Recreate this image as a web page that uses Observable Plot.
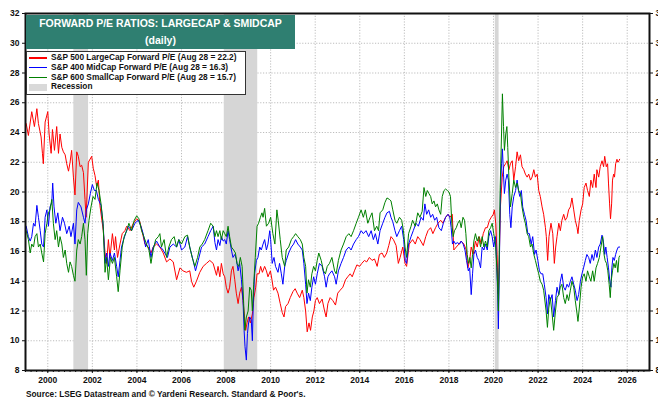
<!DOCTYPE html>
<html>
<head>
<meta charset="utf-8">
<script src="https://cdn.jsdelivr.net/npm/d3@7"></script>
<script src="https://cdn.jsdelivr.net/npm/@observablehq/plot@0.6"></script>
<style>
  html, body { margin: 0; padding: 0; background: #fff; overflow: hidden; }
  #wrap { position: relative; width: 658px; height: 401px; font-family: "Liberation Sans", Arial, sans-serif; }
  #title { position: absolute; left: 26px; top: 15px; width: 269px; height: 34px; background: #2f7f71; color: #fff;
           font-weight: bold; font-size: 10.5px; line-height: 17px; text-align: center; }
  #legend { position: absolute; left: 26px; top: 51px; width: 218px; height: 41px; background: #fff;
            border: 1.5px solid #333; padding-top: 1px; }
  .row { position: relative; height: 9.8px; line-height: 9.8px; font-size: 8.3px; font-weight: bold; color: #111; padding-left: 24px; white-space: nowrap; }
  .sw { position: absolute; left: 2px; top: 4px; width: 18px; height: 1.5px; }
  .sw.rec { top: 1.5px; height: 7px; }
  #source { position: absolute; left: 26px; top: 388px; font-size: 8.3px; font-weight: bold; color: #111; line-height: 13px; white-space: nowrap; }
</style>
</head>
<body>
<div id="wrap">
  <div id="chart"></div>
  <div id="title"></div>
  <div id="legend"></div>
  <div id="source"></div>
</div>
<script>
const titleLines = ["FORWARD P/E RATIOS: LARGECAP & SMIDCAP", "(daily)"];
const sourceText = "Source: LSEG Datastream and \u00a9 Yardeni Research. Standard & Poor's.";
const seriesNames = [
  "S&P 500 LargeCap Forward P/E (Aug 28 = 22.2)",
  "S&P 400 MidCap Forward P/E (Aug 28 = 16.3)",
  "S&P 600 SmallCap Forward P/E (Aug 28 = 15.7)"
];
const recessionLabel = "Recession";
const seriesColors = ["#ff0000", "#0000ff", "#008000"];
const xTicks = [2000, 2002, 2004, 2006, 2008, 2010, 2012, 2014, 2016, 2018, 2020, 2022, 2024, 2026];
const yTicks = [8, 10, 12, 14, 16, 18, 20, 22, 24, 26, 28, 30, 32];
const recessions = [[2001.17, 2001.83], [2007.92, 2009.42], [2020.08, 2020.25]];

const sp500 = [
[1999.03,24.6],[1999.13,23.8],[1999.28,25.4],[1999.40,24.4],[1999.51,25.6],[1999.58,24.6],[1999.70,23.7],[1999.76,22.6],[1999.80,21.9],[1999.88,24.7],
[2000.00,25.4],[2000.06,23.9],[2000.15,22.6],[2000.21,24.2],[2000.30,22.8],[2000.40,24.4],[2000.48,22.6],[2000.55,23.9],[2000.63,23.0],[2000.70,22.7],[2000.78,22.5],[2000.85,21.9],[2000.93,21.4],
[2001.00,22.0],[2001.07,22.8],[2001.15,21.0],[2001.22,19.8],[2001.30,22.7],[2001.37,22.4],[2001.45,21.7],[2001.52,21.8],[2001.60,21.3],[2001.67,19.5],[2001.72,18.3],[2001.82,22.0],[2001.97,22.4],
[2002.04,21.6],[2002.12,21.1],[2002.19,20.4],[2002.27,20.8],[2002.34,19.1],[2002.49,17.4],[2002.57,15.9],[2002.64,15.2],[2002.72,16.8],[2002.79,15.6],[2002.90,17.2],[2002.99,16.1],
[2003.04,17.0],[2003.13,15.6],[2003.24,16.5],[2003.34,17.2],[2003.46,17.4],[2003.54,17.7],[2003.69,17.4],[2003.84,17.9],[2003.99,18.2],
[2004.13,18.0],[2004.24,17.3],[2004.36,16.5],[2004.51,16.3],[2004.63,15.9],[2004.73,16.3],[2004.88,16.5],
[2005.03,16.3],[2005.18,15.9],[2005.33,15.3],[2005.48,15.5],[2005.63,15.3],[2005.78,14.1],[2005.93,14.9],
[2006.07,14.7],[2006.22,14.6],[2006.37,14.7],[2006.45,14.0],[2006.55,13.6],[2006.67,14.0],[2006.82,14.6],[2006.97,15.0],
[2007.12,15.2],[2007.27,15.4],[2007.42,15.2],[2007.57,14.4],[2007.64,15.0],[2007.72,14.3],[2007.79,15.2],[2007.87,14.5],[2007.94,14.3],
[2008.01,13.6],[2008.09,13.2],[2008.16,13.6],[2008.24,14.7],[2008.31,15.0],[2008.39,14.1],[2008.46,13.2],[2008.54,12.5],[2008.61,13.2],[2008.69,13.6],[2008.76,12.7],[2008.84,11.4],[2008.88,10.7],[2008.94,11.2],
[2009.01,11.6],[2009.09,11.2],[2009.18,11.8],[2009.25,12.9],[2009.33,13.6],[2009.39,14.5],[2009.48,14.5],[2009.55,15.0],[2009.63,14.6],[2009.73,15.0],[2009.81,14.7],[2009.88,14.3],[2009.99,14.7],
[2010.06,14.1],[2010.13,13.4],[2010.22,13.6],[2010.33,13.2],[2010.43,12.5],[2010.52,11.9],[2010.60,11.6],[2010.67,12.3],[2010.78,12.5],[2010.88,12.9],
[2011.00,13.3],[2011.10,13.5],[2011.19,13.2],[2011.30,12.9],[2011.42,13.4],[2011.49,12.9],[2011.57,12.0],[2011.64,10.6],[2011.72,11.2],[2011.79,10.7],[2011.87,11.6],[2011.94,12.0],
[2012.01,12.7],[2012.09,12.9],[2012.19,12.5],[2012.31,12.8],[2012.42,12.0],[2012.49,11.6],[2012.57,12.5],[2012.67,12.9],[2012.79,12.7],[2012.91,12.4],
[2013.01,13.2],[2013.12,13.4],[2013.24,13.6],[2013.36,14.1],[2013.46,14.3],[2013.57,14.5],[2013.66,14.3],[2013.76,14.7],[2013.87,15.1],[2013.99,15.0],
[2014.09,15.2],[2014.21,15.4],[2014.31,15.3],[2014.43,15.6],[2014.55,15.4],[2014.66,15.5],[2014.78,15.0],[2014.88,15.8],
[2015.00,15.9],[2015.10,15.6],[2015.21,15.9],[2015.30,16.4],[2015.40,17.0],[2015.51,16.8],[2015.63,16.4],[2015.73,15.2],[2015.81,15.6],[2015.93,16.3],
[2016.03,15.2],[2016.10,15.0],[2016.22,16.5],[2016.37,16.8],[2016.49,16.5],[2016.60,17.0],[2016.70,16.8],[2016.85,16.4],[2016.96,17.0],
[2017.06,17.4],[2017.18,17.6],[2017.28,17.2],[2017.40,17.6],[2017.51,17.9],[2017.63,18.1],[2017.73,17.9],[2017.85,18.3],[2017.96,18.5],
[2018.04,18.3],[2018.15,18.5],[2018.22,16.1],[2018.33,16.3],[2018.45,16.5],[2018.55,16.7],[2018.67,16.5],[2018.78,16.1],[2018.85,14.9],[2018.93,15.4],
[2019.00,16.3],[2019.09,15.8],[2019.19,16.7],[2019.27,16.3],[2019.36,17.0],[2019.45,16.5],[2019.54,17.2],[2019.64,17.6],[2019.72,17.6],[2019.82,18.1],[2019.90,18.3],[2019.99,18.5],
[2020.04,18.8],[2020.10,17.9],[2020.16,15.8],[2020.21,13.1],[2020.25,14.9],[2020.31,19.0],[2020.39,21.0],[2020.46,21.7],[2020.54,21.9],[2020.61,22.1],[2020.69,21.5],[2020.76,21.9],[2020.84,22.1],[2020.91,20.8],[2020.99,21.7],
[2021.06,22.7],[2021.13,22.1],[2021.21,22.5],[2021.28,21.7],[2021.36,21.5],[2021.43,21.2],[2021.51,21.0],[2021.58,21.2],[2021.66,20.8],[2021.73,21.0],[2021.81,21.5],[2021.88,21.0],[2021.96,21.2],
[2022.03,20.1],[2022.10,19.7],[2022.18,19.0],[2022.25,18.5],[2022.33,17.6],[2022.37,17.0],[2022.43,15.4],[2022.49,17.0],[2022.58,17.9],[2022.66,17.2],[2022.73,15.2],[2022.79,16.3],[2022.85,17.0],[2022.93,17.9],
[2023.00,17.4],[2023.07,18.1],[2023.15,18.5],[2023.22,18.1],[2023.30,18.3],[2023.37,18.8],[2023.45,19.0],[2023.52,19.6],[2023.60,18.8],[2023.67,18.1],[2023.75,17.6],[2023.79,17.2],[2023.85,18.1],[2023.93,18.8],
[2024.00,19.2],[2024.07,20.3],[2024.15,20.6],[2024.22,20.1],[2024.30,19.7],[2024.37,20.8],[2024.45,20.3],[2024.52,21.2],[2024.60,20.3],[2024.64,21.5],[2024.72,21.0],[2024.79,21.7],[2024.87,22.1],[2024.94,21.7],[2024.99,22.4],
[2025.06,21.7],[2025.12,21.9],[2025.16,20.6],[2025.21,19.2],[2025.25,18.2],[2025.30,19.2],[2025.34,20.8],[2025.39,21.2],[2025.43,21.0],[2025.48,21.9],[2025.54,22.2],[2025.58,22.0],[2025.63,22.1],[2025.66,22.2]
];

const sp400 = [
[1999.03,17.7],[1999.13,17.0],[1999.21,16.7],[1999.28,17.0],[1999.36,17.9],[1999.43,17.7],[1999.51,19.1],[1999.58,18.3],[1999.66,17.4],[1999.73,16.5],[1999.81,16.3],[1999.88,18.3],[1999.96,18.8],
[2000.03,17.7],[2000.10,19.0],[2000.18,19.3],[2000.22,20.6],[2000.28,19.0],[2000.36,17.9],[2000.45,18.6],[2000.55,17.4],[2000.66,18.3],[2000.75,17.9],[2000.85,17.2],[2000.96,17.7],
[2001.04,17.0],[2001.15,17.9],[2001.22,16.5],[2001.30,18.8],[2001.37,19.3],[2001.49,19.0],[2001.60,18.3],[2001.67,17.9],[2001.73,18.8],[2001.82,19.2],[2001.91,19.9],
[2002.00,20.5],[2002.09,20.1],[2002.18,20.1],[2002.27,19.5],[2002.39,19.1],[2002.49,17.7],[2002.57,15.2],[2002.64,15.9],[2002.72,15.0],[2002.79,15.9],[2002.90,15.4],[2002.99,15.9],
[2003.09,15.0],[2003.16,14.3],[2003.24,15.4],[2003.31,16.3],[2003.40,16.8],[2003.49,17.2],[2003.61,17.7],[2003.76,17.4],[2003.91,17.9],
[2004.06,18.1],[2004.18,17.7],[2004.28,17.2],[2004.39,16.3],[2004.51,16.8],[2004.63,15.6],[2004.73,16.3],[2004.88,16.7],
[2005.03,16.3],[2005.13,16.2],[2005.25,15.9],[2005.37,15.6],[2005.48,16.3],[2005.63,16.5],[2005.78,16.3],[2005.88,16.8],
[2006.00,16.1],[2006.15,16.3],[2006.27,17.0],[2006.37,16.3],[2006.52,15.4],[2006.63,14.7],[2006.75,15.4],[2006.90,16.3],
[2007.04,16.5],[2007.19,17.0],[2007.31,17.4],[2007.42,17.7],[2007.50,16.6],[2007.57,16.1],[2007.64,16.8],[2007.72,16.4],[2007.79,17.0],[2007.87,16.7],[2007.94,16.8],
[2008.01,16.5],[2008.09,17.4],[2008.16,16.8],[2008.24,16.1],[2008.31,15.6],[2008.39,15.8],[2008.46,15.5],[2008.54,14.7],[2008.61,15.2],[2008.69,14.1],[2008.76,12.7],[2008.81,10.7],[2008.85,9.6],[2008.91,8.7],[2008.96,10.5],
[2009.01,11.2],[2009.06,11.6],[2009.13,11.4],[2009.18,10.0],[2009.22,12.5],[2009.28,14.5],[2009.36,15.4],[2009.43,15.6],[2009.51,16.3],[2009.58,16.1],[2009.66,16.5],[2009.73,16.8],[2009.81,16.1],[2009.88,16.5],[2009.96,17.4],
[2010.00,16.8],[2010.07,15.2],[2010.15,15.6],[2010.22,15.0],[2010.33,14.6],[2010.40,15.2],[2010.48,14.5],[2010.55,13.8],[2010.63,15.0],[2010.70,15.4],[2010.81,15.9],[2010.93,16.3],
[2011.03,16.5],[2011.12,16.8],[2011.22,16.5],[2011.33,16.3],[2011.42,16.1],[2011.49,15.2],[2011.57,13.8],[2011.63,12.5],[2011.70,13.2],[2011.78,12.7],[2011.85,13.6],[2011.93,14.3],
[2012.01,13.8],[2012.09,14.5],[2012.19,15.2],[2012.31,15.0],[2012.42,14.3],[2012.49,13.6],[2012.57,14.3],[2012.64,14.5],[2012.75,14.7],[2012.87,14.3],[2012.94,13.8],
[2013.04,14.7],[2013.16,15.2],[2013.27,15.6],[2013.39,16.1],[2013.51,16.3],[2013.61,16.1],[2013.72,16.5],[2013.84,16.8],[2013.94,17.0],
[2014.06,17.4],[2014.16,17.2],[2014.28,17.4],[2014.40,17.0],[2014.51,17.4],[2014.61,16.8],[2014.70,17.2],[2014.81,16.5],[2014.91,17.4],
[2015.03,17.9],[2015.13,18.3],[2015.22,18.6],[2015.33,18.7],[2015.40,18.3],[2015.48,18.0],[2015.58,17.4],[2015.66,17.0],[2015.78,17.4],[2015.88,17.7],[2015.97,16.8],
[2016.04,15.4],[2016.10,15.2],[2016.19,16.5],[2016.30,17.0],[2016.40,17.4],[2016.52,17.9],[2016.63,17.7],[2016.75,18.3],[2016.85,18.1],[2016.92,19.2],
[2017.00,18.5],[2017.09,18.8],[2017.18,18.3],[2017.27,18.5],[2017.36,18.1],[2017.45,18.3],[2017.55,17.6],[2017.66,17.4],[2017.75,17.9],[2017.85,18.3],[2017.96,18.5],
[2018.04,18.3],[2018.10,17.6],[2018.16,16.5],[2018.22,16.7],[2018.30,16.5],[2018.37,16.6],[2018.48,16.5],[2018.55,16.7],[2018.64,16.5],[2018.72,16.1],[2018.79,15.4],[2018.87,14.7],[2018.93,14.9],
[2019.00,13.1],[2019.06,14.5],[2019.12,15.8],[2019.19,16.1],[2019.27,15.6],[2019.34,15.4],[2019.42,14.9],[2019.49,16.3],[2019.57,16.1],[2019.64,16.5],[2019.72,16.1],[2019.79,17.0],[2019.87,17.4],[2019.94,17.0],
[2020.01,16.3],[2020.09,17.0],[2020.15,14.9],[2020.19,13.1],[2020.22,10.8],[2020.27,15.8],[2020.31,19.9],[2020.36,21.9],[2020.40,22.9],[2020.45,21.2],[2020.49,19.9],[2020.55,20.8],[2020.61,21.2],[2020.67,20.8],[2020.73,18.5],[2020.78,17.6],[2020.84,19.0],[2020.91,19.7],[2020.99,20.1],
[2021.06,20.8],[2021.12,20.1],[2021.18,19.7],[2021.25,20.1],[2021.31,19.0],[2021.39,18.5],[2021.46,18.1],[2021.54,17.2],[2021.61,17.2],[2021.69,16.5],[2021.76,17.0],[2021.84,15.8],[2021.91,16.1],[2021.99,15.4],
[2022.06,14.7],[2022.13,14.5],[2022.21,14.5],[2022.28,13.8],[2022.36,12.9],[2022.42,11.8],[2022.48,13.1],[2022.55,12.7],[2022.63,13.1],[2022.70,11.6],[2022.78,12.7],[2022.85,13.6],[2022.93,13.1],
[2023.00,14.0],[2023.07,14.5],[2023.15,13.6],[2023.22,13.4],[2023.30,13.8],[2023.37,13.6],[2023.45,14.0],[2023.52,14.3],[2023.60,13.8],[2023.67,13.4],[2023.75,12.7],[2023.82,13.1],[2023.90,14.0],[2023.97,14.5],
[2024.04,14.9],[2024.12,15.4],[2024.19,15.8],[2024.27,15.6],[2024.34,15.2],[2024.42,15.8],[2024.49,15.4],[2024.57,16.1],[2024.64,15.6],[2024.72,16.3],[2024.79,16.5],[2024.87,17.1],[2024.93,16.7],[2024.99,15.8],
[2025.04,16.3],[2025.10,15.6],[2025.16,14.9],[2025.22,14.0],[2025.27,13.6],[2025.31,14.9],[2025.36,15.6],[2025.42,15.4],[2025.48,15.8],[2025.54,16.1],[2025.60,16.3],[2025.66,16.3]
];

const sp600 = [
[1999.03,17.4],[1999.13,16.8],[1999.21,15.9],[1999.28,16.5],[1999.36,16.3],[1999.43,17.0],[1999.51,17.2],[1999.58,16.3],[1999.66,16.5],[1999.73,15.9],[1999.81,15.3],[1999.88,17.2],[1999.96,17.9],
[2000.03,18.6],[2000.10,18.8],[2000.18,19.5],[2000.25,17.9],[2000.33,16.8],[2000.40,17.4],[2000.48,16.3],[2000.55,17.0],[2000.63,16.5],[2000.70,15.6],[2000.78,16.1],[2000.85,15.2],[2000.93,14.6],
[2001.00,15.3],[2001.07,15.0],[2001.15,14.4],[2001.22,14.0],[2001.30,16.1],[2001.37,16.8],[2001.45,16.5],[2001.52,17.0],[2001.60,17.9],[2001.67,16.8],[2001.73,14.4],[2001.79,17.2],[2001.85,18.1],[2001.94,19.0],
[2002.03,19.7],[2002.12,19.5],[2002.21,20.6],[2002.30,20.1],[2002.39,19.2],[2002.48,17.9],[2002.57,14.6],[2002.64,15.6],[2002.72,14.1],[2002.81,15.6],[2002.90,15.2],[2002.99,15.6],
[2003.09,14.3],[2003.16,13.3],[2003.24,14.7],[2003.34,16.3],[2003.43,17.0],[2003.54,17.4],[2003.64,17.9],[2003.76,17.4],[2003.88,18.1],[2003.99,18.4],
[2004.09,18.2],[2004.21,17.4],[2004.31,17.0],[2004.43,16.5],[2004.54,16.1],[2004.63,15.2],[2004.73,16.1],[2004.84,16.8],[2004.96,17.0],
[2005.03,17.2],[2005.10,16.3],[2005.22,16.8],[2005.33,15.6],[2005.43,16.3],[2005.55,16.8],[2005.67,17.0],[2005.78,16.3],[2005.88,16.8],
[2006.00,16.5],[2006.15,17.0],[2006.27,17.1],[2006.37,16.3],[2006.48,15.6],[2006.60,15.0],[2006.72,15.6],[2006.82,16.3],[2006.93,16.5],
[2007.04,16.8],[2007.19,17.4],[2007.31,17.9],[2007.42,17.7],[2007.50,17.0],[2007.57,17.4],[2007.64,17.0],[2007.72,17.4],[2007.79,16.8],[2007.87,17.4],[2007.94,17.2],
[2008.01,17.0],[2008.09,17.7],[2008.16,17.0],[2008.24,16.3],[2008.34,16.1],[2008.42,15.9],[2008.49,15.2],[2008.57,15.0],[2008.64,15.6],[2008.72,15.0],[2008.79,12.5],[2008.84,10.7],[2008.91,11.6],[2008.99,12.0],
[2009.06,13.6],[2009.13,13.4],[2009.18,12.0],[2009.24,13.8],[2009.31,15.6],[2009.39,17.7],[2009.46,17.9],[2009.54,18.3],[2009.61,18.6],[2009.66,18.3],[2009.73,18.9],[2009.81,17.7],[2009.91,17.9],
[2010.00,18.3],[2010.10,17.2],[2010.19,16.5],[2010.28,18.8],[2010.34,18.1],[2010.43,16.8],[2010.52,15.6],[2010.63,15.0],[2010.70,16.1],[2010.81,16.3],[2010.93,16.8],
[2011.03,17.0],[2011.12,17.2],[2011.22,17.0],[2011.33,16.8],[2011.42,16.5],[2011.49,15.6],[2011.57,15.0],[2011.63,13.2],[2011.70,14.1],[2011.78,13.6],[2011.85,14.5],[2011.93,15.0],
[2012.01,14.7],[2012.09,15.4],[2012.16,15.9],[2012.27,15.4],[2012.37,14.7],[2012.46,14.5],[2012.54,15.0],[2012.64,15.2],[2012.75,15.6],[2012.87,14.7],[2012.94,14.5],
[2013.04,15.4],[2013.16,16.1],[2013.27,16.5],[2013.39,17.0],[2013.51,17.2],[2013.61,17.0],[2013.72,17.4],[2013.84,17.9],[2013.94,18.3],
[2014.06,18.8],[2014.16,18.3],[2014.25,18.8],[2014.36,17.9],[2014.46,18.3],[2014.55,18.6],[2014.66,17.4],[2014.76,17.7],[2014.84,17.4],[2014.91,18.6],
[2015.03,18.8],[2015.13,19.3],[2015.22,19.6],[2015.33,19.5],[2015.40,19.4],[2015.48,18.8],[2015.58,18.1],[2015.66,17.9],[2015.78,18.3],[2015.88,18.1],[2015.96,17.4],
[2016.03,16.3],[2016.10,15.6],[2016.19,17.2],[2016.30,17.7],[2016.37,18.1],[2016.49,17.7],[2016.60,18.6],[2016.70,18.3],[2016.80,18.7],[2016.88,20.3],[2016.96,19.7],
[2017.03,20.1],[2017.10,19.9],[2017.18,19.7],[2017.25,19.2],[2017.33,19.4],[2017.40,19.0],[2017.48,19.2],[2017.55,18.8],[2017.63,18.5],[2017.70,19.7],[2017.78,20.1],[2017.85,20.2],[2017.93,20.1],
[2018.00,20.0],[2018.07,19.7],[2018.13,17.9],[2018.19,17.0],[2018.25,17.4],[2018.33,17.6],[2018.40,17.9],[2018.48,18.1],[2018.55,17.6],[2018.63,18.3],[2018.70,18.1],[2018.76,17.2],[2018.82,15.8],[2018.88,15.2],[2018.94,15.6],
[2019.00,14.9],[2019.06,15.8],[2019.12,16.7],[2019.19,17.2],[2019.27,16.7],[2019.34,17.0],[2019.42,16.3],[2019.49,17.0],[2019.57,16.3],[2019.64,16.7],[2019.72,16.3],[2019.79,17.4],[2019.87,17.6],[2019.94,17.9],
[2020.01,17.2],[2020.09,16.5],[2020.15,14.9],[2020.19,13.6],[2020.22,12.0],[2020.25,14.9],[2020.30,20.3],[2020.36,23.9],[2020.40,26.6],[2020.45,24.4],[2020.49,22.8],[2020.55,23.9],[2020.60,24.4],[2020.64,23.0],[2020.69,21.0],[2020.76,19.0],[2020.84,19.9],[2020.91,20.8],[2020.99,20.3],
[2021.06,20.6],[2021.13,20.1],[2021.21,19.9],[2021.28,19.0],[2021.36,18.3],[2021.43,17.9],[2021.51,17.2],[2021.58,17.0],[2021.66,16.3],[2021.73,16.5],[2021.81,15.8],[2021.88,15.4],[2021.96,14.9],
[2022.03,14.5],[2022.10,14.0],[2022.18,13.8],[2022.25,13.4],[2022.36,12.0],[2022.42,10.9],[2022.48,12.2],[2022.55,12.9],[2022.63,11.8],[2022.70,10.7],[2022.78,12.0],[2022.85,12.9],[2022.93,13.1],
[2023.00,13.6],[2023.07,13.8],[2023.15,12.9],[2023.22,12.5],[2023.30,13.1],[2023.37,12.7],[2023.45,13.4],[2023.52,14.0],[2023.60,13.6],[2023.67,12.7],[2023.75,11.8],[2023.79,11.3],[2023.85,12.2],[2023.93,13.6],
[2024.00,14.3],[2024.07,14.5],[2024.15,14.0],[2024.22,14.7],[2024.30,14.3],[2024.37,14.0],[2024.45,14.7],[2024.52,14.0],[2024.60,14.9],[2024.67,15.2],[2024.75,15.6],[2024.82,16.3],[2024.90,17.0],[2024.96,15.8],
[2025.01,15.4],[2025.07,15.2],[2025.13,14.7],[2025.19,13.8],[2025.24,12.9],[2025.28,14.0],[2025.34,14.7],[2025.40,15.2],[2025.46,14.9],[2025.52,15.4],[2025.58,14.6],[2025.63,15.6],[2025.66,15.7]
];

// Title
document.getElementById("title").innerHTML = titleLines.map(s => s.replace(/&/g, "&amp;")).join("<br>");
document.getElementById("source").textContent = sourceText;

// Legend
const legend = document.getElementById("legend");
seriesNames.forEach((name, i) => {
  const row = document.createElement("div");
  row.className = "row";
  const sw = document.createElement("span");
  sw.className = "sw";
  sw.style.background = seriesColors[i];
  row.appendChild(sw);
  row.appendChild(document.createTextNode(name));
  legend.appendChild(row);
});
{
  const row = document.createElement("div");
  row.className = "row";
  const sw = document.createElement("span");
  sw.className = "sw rec";
  sw.style.background = "#d9d9d9";
  row.appendChild(sw);
  row.appendChild(document.createTextNode(recessionLabel));
  legend.appendChild(row);
}

const minorX = [];
for (let y = 1999; y < 2027; y++) for (let q = 0; q < 4; q++) minorX.push(y + q / 4);

const chart = Plot.plot({
  width: 658,
  height: 388,
  marginLeft: 25,
  marginRight: 9,
  marginTop: 13,
  marginBottom: 18,
  x: {domain: [1999, 2027]},
  y: {domain: [8, 32]},
  style: {fontFamily: "'Liberation Sans', Arial, sans-serif", fontSize: "8.5px", fontWeight: "bold", color: "#111", background: "#fff"},
  marks: [
    Plot.gridX({ticks: xTicks, stroke: "#bdbdbd", strokeOpacity: 1, strokeDasharray: "1.2,1.6"}),
    Plot.gridY({ticks: yTicks, stroke: "#bdbdbd", strokeOpacity: 1, strokeDasharray: "1.2,1.6"}),
    Plot.rect(recessions, {x1: d => d[0], x2: d => d[1], fill: "#d6d6d6"}),
    Plot.line(sp500, {x: d => d[0], y: d => d[1], stroke: seriesColors[0], strokeWidth: 1}),
    Plot.line(sp400, {x: d => d[0], y: d => d[1], stroke: seriesColors[1], strokeWidth: 1}),
    Plot.line(sp600, {x: d => d[0], y: d => d[1], stroke: seriesColors[2], strokeWidth: 1}),
    Plot.frame({stroke: "#111", strokeWidth: 2}),
    Plot.axisX({ticks: xTicks, tickFormat: "d", tickSize: 3, tickPadding: 3, label: null}),
    Plot.axisX({ticks: minorX, tickSize: 2, text: null, label: null}),
    Plot.axisY({ticks: yTicks, tickSize: 3, tickPadding: 3, label: null}),
    Plot.axisY({anchor: "right", ticks: yTicks, tickSize: 3, tickPadding: 3, label: null})
  ]
});
document.getElementById("chart").appendChild(chart);
</script>
</body>
</html>
